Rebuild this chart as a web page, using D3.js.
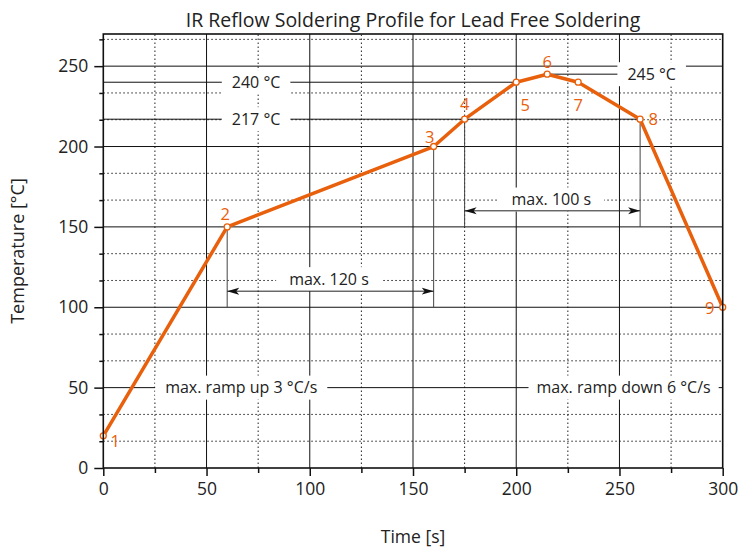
<!DOCTYPE html>
<html>
<head>
<meta charset="utf-8">
<script src="https://cdn.jsdelivr.net/npm/d3@7"></script>
<style>
  body { margin: 0; background: #fff; }
  text { font-family: "Open Sans", "Noto Sans", sans-serif; fill: #222; }
</style>
</head>
<body>
<script>
// profile points
const times = [0, 60, 160, 175, 200, 215, 230, 260, 300];
const temps = [20, 150, 200, 217, 240, 245, 240, 217, 100];
const pointLabels = ["1", "2", "3", "4", "5", "6", "7", "8", "9"];

// axes
const xTicks = [0, 50, 100, 150, 200, 250, 300];
const yTicks = [0, 50, 100, 150, 200, 250];

// annotations
const refTemps = [240, 217];
const refLabels = ["240 °C", "217 °C"];
const peakLabel = "245 °C";
const spanStarts = [60, 175];
const spanEnds = [160, 260];
const spanLabels = ["max. 120 s", "max. 100 s"];
const rampLabels = ["max. ramp up 3 °C/s", "max. ramp down 6 °C/s"];

const width = 739, height = 554;
const margin = {top: 34, right: 16.3, bottom: 86, left: 103.3};
const orange = "#e8600c";

const svg = d3.select("body").append("svg")
    .attr("width", width)
    .attr("height", height);

const x = d3.scaleLinear().domain([0, 300]).range([margin.left, width - margin.right]);
const y = d3.scaleLinear().domain([0, 270]).range([height - margin.bottom, margin.top]);

const xMinor = d3.range(25, 300, 50);
const yMinor = d3.range(0, 270, 50 / 3).filter(v => Math.abs(v % 50) > 1 && Math.abs(v % 50 - 50) > 1);

// grid
const grid = svg.append("g");
grid.selectAll(".vminor").data(xMinor).enter().append("line")
    .attr("x1", d => x(d)).attr("x2", d => x(d))
    .attr("y1", y(0)).attr("y2", y(270))
    .attr("stroke", "#222").attr("stroke-width", 1).attr("stroke-dasharray", "1.5,2.5");
grid.selectAll(".hminor").data(yMinor).enter().append("line")
    .attr("x1", x(0)).attr("x2", x(300))
    .attr("y1", d => y(d)).attr("y2", d => y(d))
    .attr("stroke", "#222").attr("stroke-width", 1).attr("stroke-dasharray", "1.5,2.5");
grid.selectAll(".vmajor").data(xTicks.slice(1, -1)).enter().append("line")
    .attr("x1", d => x(d)).attr("x2", d => x(d))
    .attr("y1", y(0)).attr("y2", y(270))
    .attr("stroke", "#111").attr("stroke-width", 1);
grid.selectAll(".hmajor").data(yTicks.slice(1)).enter().append("line")
    .attr("x1", x(0)).attr("x2", x(300))
    .attr("y1", d => y(d)).attr("y2", d => y(d))
    .attr("stroke", "#111").attr("stroke-width", 1);

// reference temperature lines, each runs to the point where the curve reaches it
const ann = svg.append("g");
ann.append("line")
    .attr("x1", x(0)).attr("x2", x(times[4]))
    .attr("y1", y(refTemps[0])).attr("y2", y(refTemps[0]))
    .attr("stroke", "#111");
ann.append("line")
    .attr("x1", x(0)).attr("x2", x(times[7]))
    .attr("y1", y(refTemps[1])).attr("y2", y(refTemps[1]))
    .attr("stroke", "#111");
ann.append("line")
    .attr("x1", x(times[5])).attr("x2", x(265))
    .attr("y1", y(temps[5])).attr("y2", y(temps[5]))
    .attr("stroke", "#111");

// drop lines for the time spans
const dropTo = [100, 150];
spanStarts.forEach((s, i) => {
  [s, spanEnds[i]].forEach(t => {
    const k = times.indexOf(t);
    ann.append("line")
        .attr("x1", x(t)).attr("x2", x(t))
        .attr("y1", y(temps[k])).attr("y2", y(dropTo[i]))
        .attr("stroke", "#444");
  });
});

// labels with a white box behind
function boxedLabel(tx, ty, str, padX) {
  const g = svg.append("g");
  const r = g.append("rect").attr("fill", "#fff");
  const t = g.append("text")
      .attr("x", x(tx)).attr("y", y(ty))
      .attr("dy", "0.35em")
      .attr("text-anchor", "middle")
      .attr("font-size", 16)
      .text(str);
  const w = t.node().getComputedTextLength();
  r.attr("x", x(tx) - w / 2 - padX).attr("y", y(ty) - 12)
   .attr("width", w + 2 * padX).attr("height", 24);
}

boxedLabel(74, refTemps[0], refLabels[0], 10);
boxedLabel(74, refTemps[1], refLabels[1], 10);
boxedLabel(265.6, temps[5], peakLabel, 10);
boxedLabel(109.3, 117.5, spanLabels[0], 13);
boxedLabel(217, 167, spanLabels[1], 13);
boxedLabel(66.8, 50, rampLabels[0], 10);
boxedLabel(252, 50, rampLabels[1], 8);

// arrows
svg.append("defs").append("marker")
    .attr("id", "arrowhead")
    .attr("viewBox", "0 -5 12 10")
    .attr("refX", 12)
    .attr("refY", 0)
    .attr("markerWidth", 12)
    .attr("markerHeight", 10)
    .attr("markerUnits", "userSpaceOnUse")
    .attr("orient", "auto-start-reverse")
  .append("path")
    .attr("d", "M0,-3.5L12,0L0,3.5L3,0Z")
    .attr("fill", "#111");

const arrowAt = [110, 160];
spanStarts.forEach((s, i) => {
  svg.append("line")
      .attr("x1", x(s)).attr("x2", x(spanEnds[i]))
      .attr("y1", y(arrowAt[i])).attr("y2", y(arrowAt[i]))
      .attr("stroke", "#222")
      .attr("marker-start", "url(#arrowhead)")
      .attr("marker-end", "url(#arrowhead)");
});

// profile curve
const pts = times.map((t, i) => [t, temps[i]]);
const line = d3.line().x(d => x(d[0])).y(d => y(d[1]));

svg.append("path")
    .datum(pts)
    .attr("d", line)
    .attr("fill", "none")
    .attr("stroke", orange)
    .attr("stroke-width", 3.5)
    .attr("stroke-linejoin", "round");

svg.append("g").selectAll("circle")
    .data(pts).enter().append("circle")
    .attr("cx", d => x(d[0])).attr("cy", d => y(d[1]))
    .attr("r", 3)
    .attr("fill", "#fff")
    .attr("stroke", orange)
    .attr("stroke-width", 1.3);

// label offsets in pixels relative to the point
const labelOffsets = [[12, 5], [-2, -13], [-4, -9], [0, -15], [9, 23], [0, -12], [0, 23], [13, 0], [-13, 1]];
svg.append("g").selectAll("text")
    .data(pts).enter().append("text")
    .attr("x", (d, i) => x(d[0]) + labelOffsets[i][0])
    .attr("y", (d, i) => y(d[1]) + labelOffsets[i][1])
    .attr("dy", "0.36em")
    .attr("text-anchor", "middle")
    .attr("font-size", 16.5)
    .style("fill", orange)
    .text((d, i) => pointLabels[i]);

// axes
svg.append("g")
    .attr("transform", `translate(0,${y(0)})`)
    .call(d3.axisBottom(x).tickValues(xTicks).tickSizeInner(8).tickSizeOuter(0).tickPadding(7));
svg.append("g")
    .attr("transform", `translate(0,${y(0)})`)
    .call(d3.axisBottom(x).tickValues(xMinor).tickSize(5).tickFormat(""));
svg.append("g")
    .attr("transform", `translate(${x(0)},0)`)
    .call(d3.axisLeft(y).tickValues(yTicks).tickSizeInner(9).tickSizeOuter(0).tickPadding(6));
svg.append("g")
    .attr("transform", `translate(${x(0)},0)`)
    .call(d3.axisLeft(y).tickValues(yMinor).tickSize(4).tickFormat(""));

svg.selectAll(".domain").remove();
svg.selectAll(".tick line").attr("stroke", "#111").attr("stroke-width", 1.5);
svg.selectAll(".tick text").attr("font-size", 17.5).style("font-family", "'Open Sans', sans-serif").attr("fill", "#222");

// frame
svg.append("rect")
    .attr("x", x(0)).attr("y", y(270))
    .attr("width", x(300) - x(0)).attr("height", y(0) - y(270))
    .attr("fill", "none")
    .attr("stroke", "#111")
    .attr("stroke-width", 1.6);

// titles
svg.append("text")
    .attr("x", (x(0) + x(300)) / 2)
    .attr("y", 27)
    .attr("text-anchor", "middle")
    .attr("font-size", 19.5)
    .text("IR Reflow Soldering Profile for Lead Free Soldering");

svg.append("text")
    .attr("x", (x(0) + x(300)) / 2)
    .attr("y", 543)
    .attr("text-anchor", "middle")
    .attr("font-size", 17.5)
    .text("Time [s]");

svg.append("text")
    .attr("transform", `translate(24,${(y(0) + y(270)) / 2}) rotate(-90)`)
    .attr("text-anchor", "middle")
    .attr("font-size", 18)
    .text("Temperature [°C]");
</script>
</body>
</html>
